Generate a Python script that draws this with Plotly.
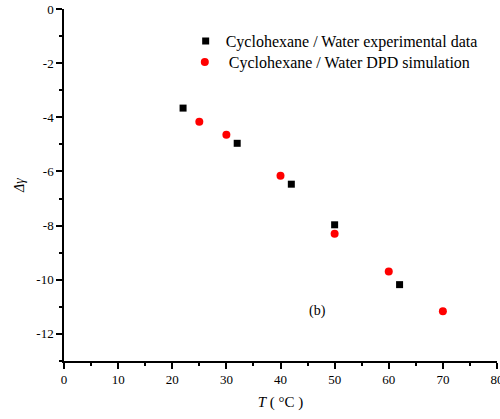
import plotly.graph_objects as go

exp_T = [22, 32, 42, 50, 62]
exp_dg = [-3.66, -4.96, -6.47, -7.97, -10.18]
sim_T = [25, 30, 40, 50, 60, 70]
sim_dg = [-4.16, -4.64, -6.16, -8.30, -9.69, -11.16]

x_ticks = [0, 10, 20, 30, 40, 50, 60, 70, 80]
x_labels = ["0", "10", "20", "30", "40", "50", "60", "70", "80"]
y_ticks = [0, -2, -4, -6, -8, -10, -12]
y_labels = ["0", "-2", "-4", "-6", "-8", "-10", "-12"]

FONT = "Liberation Serif"

fig = go.Figure()
fig.add_trace(go.Scatter(
    x=exp_T, y=exp_dg, mode="markers",
    name="Cyclohexane / Water experimental data", legend="legend",
    marker=dict(symbol="square", size=7, color="black", line=dict(width=0)),
))
fig.add_trace(go.Scatter(
    x=sim_T, y=sim_dg, mode="markers",
    name=" Cyclohexane / Water DPD simulation", legend="legend2",
    marker=dict(symbol="circle", size=8, color="red", line=dict(width=0)),
))

axis_common = dict(
    showline=True, linecolor="black", linewidth=1.5,
    showgrid=False, zeroline=False,
    tickcolor="black", tickwidth=1.5,
)
tfont = dict(family=FONT, size=13, color="black")
lfont = dict(family=FONT, size=16, color="black")

fig.update_layout(
    width=500, height=419,
    margin=dict(l=64, r=3, t=9, b=58, autoexpand=False),
    paper_bgcolor="white", plot_bgcolor="white",
    font=dict(family=FONT, color="black"),
    showlegend=True,
    legend=dict(
        x=0.281, y=0.909, xanchor="left", yanchor="middle",
        bgcolor="rgba(0,0,0,0)", borderwidth=0, font=lfont, itemwidth=30,
    ),
    legend2=dict(
        x=0.279, y=0.849, xanchor="left", yanchor="middle",
        bgcolor="rgba(0,0,0,0)", borderwidth=0, font=lfont, itemwidth=30,
    ),
    xaxis=dict(
        range=[0, 80], tickvals=x_ticks, ticktext=x_labels, ticks="outside", ticklen=6,
        ticklabeloverflow="allow", tickfont=tfont,
        minor=dict(ticks="outside", ticklen=3, dtick=5, tick0=0, tickcolor="black", tickwidth=1.5),
        title=dict(text="<i>T</i> ( °C )", font=dict(family=FONT, size=15, color="black"), standoff=10),
        **axis_common,
    ),
    yaxis=dict(
        range=[-13, 0], tickvals=y_ticks, ticktext=y_labels, ticks="outside", ticklen=6,
        tickfont=tfont,
        minor=dict(ticks="outside", ticklen=3, dtick=1, tick0=0, tickcolor="black", tickwidth=1.5),
        title=dict(text="<i>Δγ</i>", font=dict(family=FONT, size=14, color="black"), standoff=8),
        **axis_common,
    ),
    xaxis2=dict(
        overlaying="x", side="top", range=[0, 80], tickvals=x_ticks,
        ticks="inside", ticklen=6, showticklabels=False,
        minor=dict(ticks="inside", ticklen=3, dtick=5, tick0=0, tickcolor="black", tickwidth=1.5),
        **axis_common,
    ),
    yaxis2=dict(
        overlaying="y", side="right", range=[-13, 0], tickvals=y_ticks,
        ticks="inside", ticklen=6, showticklabels=False,
        minor=dict(ticks="inside", ticklen=3, dtick=1, tick0=0, tickcolor="black", tickwidth=1.5),
        **axis_common,
    ),
    annotations=[dict(
        x=46.9, y=-11.14, xref="x", yref="y", text="(b)", showarrow=False,
        font=dict(family=FONT, size=14, color="black"),
    )],
)

fig.write_html("out.html")
